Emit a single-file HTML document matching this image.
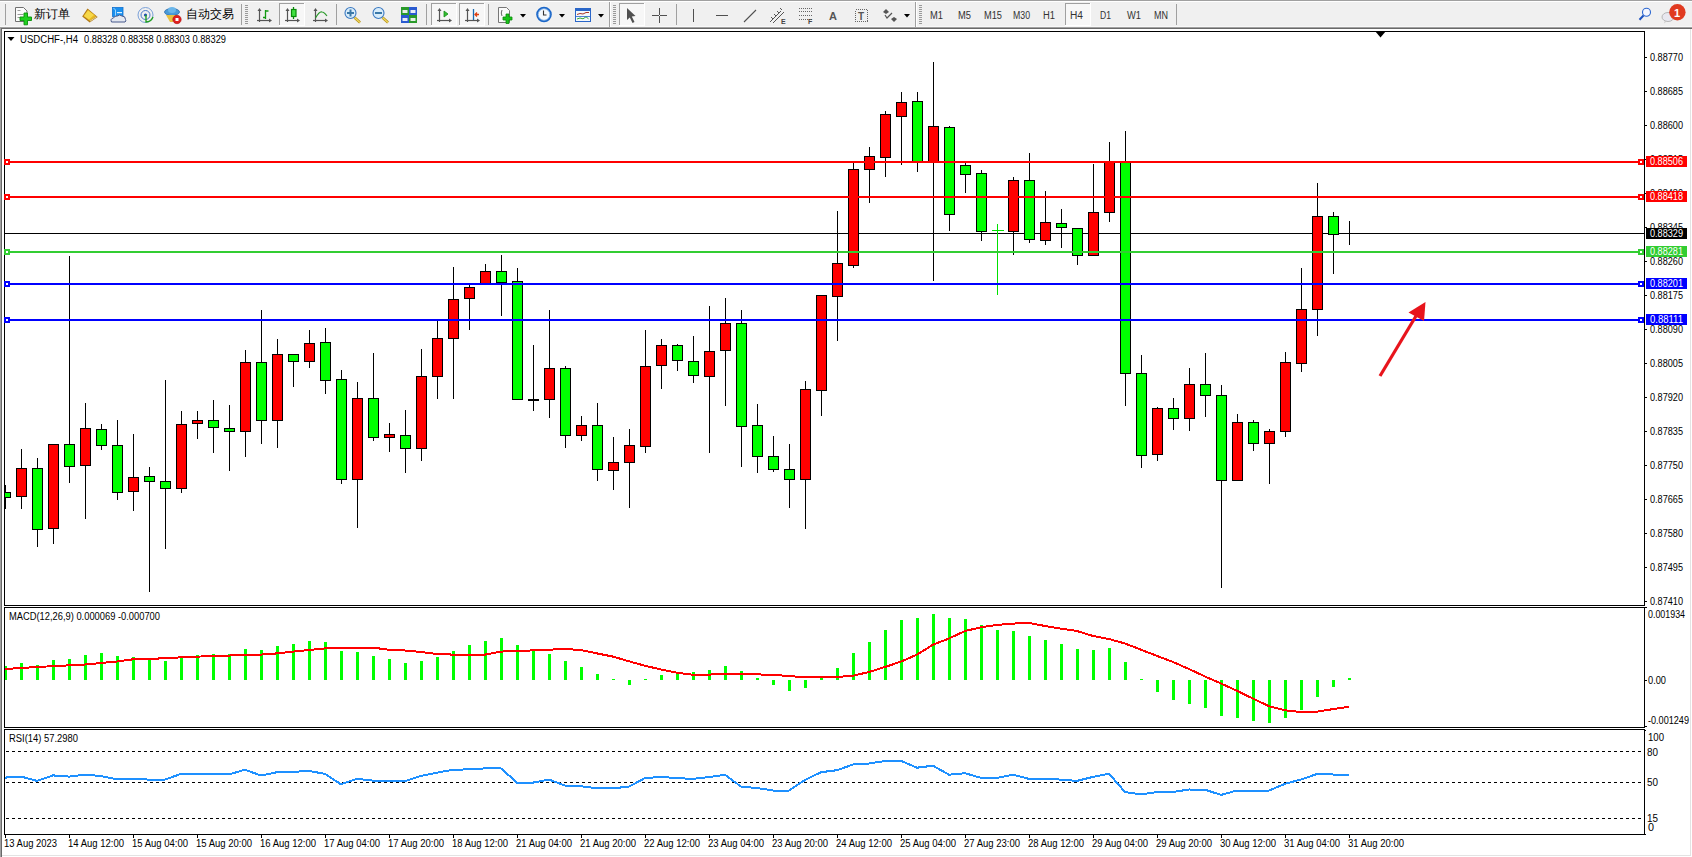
<!DOCTYPE html>
<html><head><meta charset="utf-8"><style>
html,body{margin:0;padding:0;width:1692px;height:857px;overflow:hidden;background:#f0f0f0;}
svg{display:block;}
text{font-family:"Liberation Sans", sans-serif;}
</style></head><body>
<svg width="1692" height="857" viewBox="0 0 1692 857" shape-rendering="crispEdges">
<rect x="0" y="0" width="1692" height="857" fill="#f0f0f0"/>
<rect x="0" y="0" width="1692" height="1" fill="#a0a0a0"/>
<rect x="0" y="1" width="1692" height="1" fill="#ffffff"/>
<rect x="0" y="26" width="1692" height="1" fill="#f8f8f8"/>
<rect x="0" y="27" width="1692" height="1" fill="#a0a0a0"/>
<rect x="0" y="28" width="1692" height="1" fill="#696969"/>
<rect x="0" y="29" width="1692" height="828" fill="#ffffff"/>
<rect x="0" y="28" width="1" height="829" fill="#a0a0a0"/>
<rect x="1" y="28" width="1" height="829" fill="#696969"/>
<rect x="1690" y="29" width="1" height="827" fill="#e3e3e3"/>
<rect x="2" y="855" width="1689" height="1" fill="#e3e3e3"/>
<rect x="4" y="31" width="1641" height="1" fill="#000"/>
<rect x="4" y="605" width="1641" height="1" fill="#000"/>
<rect x="4" y="31" width="1" height="575" fill="#000"/>
<rect x="1644" y="31" width="1" height="575" fill="#000"/>
<rect x="4" y="607" width="1641" height="1" fill="#000"/>
<rect x="4" y="727" width="1641" height="1" fill="#000"/>
<rect x="4" y="607" width="1" height="121" fill="#000"/>
<rect x="1644" y="607" width="1" height="121" fill="#000"/>
<rect x="4" y="729" width="1641" height="1" fill="#000"/>
<rect x="4" y="834" width="1641" height="1" fill="#000"/>
<rect x="4" y="729" width="1" height="106" fill="#000"/>
<rect x="1644" y="729" width="1" height="106" fill="#000"/>
<rect x="5" y="233" width="1639" height="1" fill="#000"/>
<defs><clipPath id="cm"><rect x="5" y="32" width="1639" height="573"/></clipPath><clipPath id="cmacd"><rect x="5" y="608" width="1639" height="119"/></clipPath><clipPath id="crsi"><rect x="5" y="730" width="1639" height="104"/></clipPath></defs>
<g clip-path="url(#cm)">
<rect x="5" y="485" width="1" height="24" fill="#000"/>
<rect x="0" y="492" width="11" height="6" fill="#000"/>
<rect x="1" y="493" width="9" height="4" fill="#00ff00"/>
<rect x="21" y="449" width="1" height="60" fill="#000"/>
<rect x="16" y="468" width="11" height="29" fill="#000"/>
<rect x="17" y="469" width="9" height="27" fill="#ff0000"/>
<rect x="37" y="458" width="1" height="89" fill="#000"/>
<rect x="32" y="468" width="11" height="62" fill="#000"/>
<rect x="33" y="469" width="9" height="60" fill="#00ff00"/>
<rect x="53" y="444" width="1" height="100" fill="#000"/>
<rect x="48" y="444" width="11" height="85" fill="#000"/>
<rect x="49" y="445" width="9" height="83" fill="#ff0000"/>
<rect x="69" y="256" width="1" height="227" fill="#000"/>
<rect x="64" y="444" width="11" height="23" fill="#000"/>
<rect x="65" y="445" width="9" height="21" fill="#00ff00"/>
<rect x="85" y="403" width="1" height="116" fill="#000"/>
<rect x="80" y="428" width="11" height="38" fill="#000"/>
<rect x="81" y="429" width="9" height="36" fill="#ff0000"/>
<rect x="101" y="424" width="1" height="26" fill="#000"/>
<rect x="96" y="429" width="11" height="17" fill="#000"/>
<rect x="97" y="430" width="9" height="15" fill="#00ff00"/>
<rect x="117" y="420" width="1" height="80" fill="#000"/>
<rect x="112" y="445" width="11" height="48" fill="#000"/>
<rect x="113" y="446" width="9" height="46" fill="#00ff00"/>
<rect x="133" y="434" width="1" height="77" fill="#000"/>
<rect x="128" y="477" width="11" height="15" fill="#000"/>
<rect x="129" y="478" width="9" height="13" fill="#ff0000"/>
<rect x="149" y="467" width="1" height="125" fill="#000"/>
<rect x="144" y="476" width="11" height="6" fill="#000"/>
<rect x="145" y="477" width="9" height="4" fill="#00ff00"/>
<rect x="165" y="380" width="1" height="169" fill="#000"/>
<rect x="160" y="481" width="11" height="8" fill="#000"/>
<rect x="161" y="482" width="9" height="6" fill="#00ff00"/>
<rect x="181" y="411" width="1" height="82" fill="#000"/>
<rect x="176" y="424" width="11" height="65" fill="#000"/>
<rect x="177" y="425" width="9" height="63" fill="#ff0000"/>
<rect x="197" y="411" width="1" height="28" fill="#000"/>
<rect x="192" y="420" width="11" height="4" fill="#000"/>
<rect x="193" y="421" width="9" height="2" fill="#ff0000"/>
<rect x="213" y="400" width="1" height="53" fill="#000"/>
<rect x="208" y="420" width="11" height="8" fill="#000"/>
<rect x="209" y="421" width="9" height="6" fill="#00ff00"/>
<rect x="229" y="405" width="1" height="66" fill="#000"/>
<rect x="224" y="428" width="11" height="4" fill="#000"/>
<rect x="225" y="429" width="9" height="2" fill="#00ff00"/>
<rect x="245" y="350" width="1" height="107" fill="#000"/>
<rect x="240" y="362" width="11" height="70" fill="#000"/>
<rect x="241" y="363" width="9" height="68" fill="#ff0000"/>
<rect x="261" y="310" width="1" height="134" fill="#000"/>
<rect x="256" y="362" width="11" height="59" fill="#000"/>
<rect x="257" y="363" width="9" height="57" fill="#00ff00"/>
<rect x="277" y="339" width="1" height="109" fill="#000"/>
<rect x="272" y="354" width="11" height="67" fill="#000"/>
<rect x="273" y="355" width="9" height="65" fill="#ff0000"/>
<rect x="293" y="354" width="1" height="33" fill="#000"/>
<rect x="288" y="354" width="11" height="8" fill="#000"/>
<rect x="289" y="355" width="9" height="6" fill="#00ff00"/>
<rect x="309" y="330" width="1" height="38" fill="#000"/>
<rect x="304" y="343" width="11" height="19" fill="#000"/>
<rect x="305" y="344" width="9" height="17" fill="#ff0000"/>
<rect x="325" y="328" width="1" height="66" fill="#000"/>
<rect x="320" y="342" width="11" height="39" fill="#000"/>
<rect x="321" y="343" width="9" height="37" fill="#00ff00"/>
<rect x="341" y="370" width="1" height="114" fill="#000"/>
<rect x="336" y="379" width="11" height="101" fill="#000"/>
<rect x="337" y="380" width="9" height="99" fill="#00ff00"/>
<rect x="357" y="382" width="1" height="146" fill="#000"/>
<rect x="352" y="398" width="11" height="82" fill="#000"/>
<rect x="353" y="399" width="9" height="80" fill="#ff0000"/>
<rect x="373" y="353" width="1" height="88" fill="#000"/>
<rect x="368" y="398" width="11" height="40" fill="#000"/>
<rect x="369" y="399" width="9" height="38" fill="#00ff00"/>
<rect x="389" y="423" width="1" height="29" fill="#000"/>
<rect x="384" y="434" width="11" height="4" fill="#000"/>
<rect x="385" y="435" width="9" height="2" fill="#ff0000"/>
<rect x="405" y="410" width="1" height="63" fill="#000"/>
<rect x="400" y="435" width="11" height="14" fill="#000"/>
<rect x="401" y="436" width="9" height="12" fill="#00ff00"/>
<rect x="421" y="349" width="1" height="112" fill="#000"/>
<rect x="416" y="376" width="11" height="73" fill="#000"/>
<rect x="417" y="377" width="9" height="71" fill="#ff0000"/>
<rect x="437" y="320" width="1" height="79" fill="#000"/>
<rect x="432" y="338" width="11" height="39" fill="#000"/>
<rect x="433" y="339" width="9" height="37" fill="#ff0000"/>
<rect x="453" y="267" width="1" height="132" fill="#000"/>
<rect x="448" y="299" width="11" height="40" fill="#000"/>
<rect x="449" y="300" width="9" height="38" fill="#ff0000"/>
<rect x="469" y="284" width="1" height="46" fill="#000"/>
<rect x="464" y="287" width="11" height="12" fill="#000"/>
<rect x="465" y="288" width="9" height="10" fill="#ff0000"/>
<rect x="485" y="264" width="1" height="20" fill="#000"/>
<rect x="480" y="271" width="11" height="13" fill="#000"/>
<rect x="481" y="272" width="9" height="11" fill="#ff0000"/>
<rect x="501" y="255" width="1" height="61" fill="#000"/>
<rect x="496" y="271" width="11" height="12" fill="#000"/>
<rect x="497" y="272" width="9" height="10" fill="#00ff00"/>
<rect x="517" y="268" width="1" height="132" fill="#000"/>
<rect x="512" y="281" width="11" height="119" fill="#000"/>
<rect x="513" y="282" width="9" height="117" fill="#00ff00"/>
<rect x="533" y="345" width="1" height="66" fill="#000"/>
<rect x="528" y="399" width="11" height="2" fill="#000"/>
<rect x="549" y="310" width="1" height="108" fill="#000"/>
<rect x="544" y="368" width="11" height="32" fill="#000"/>
<rect x="545" y="369" width="9" height="30" fill="#ff0000"/>
<rect x="565" y="366" width="1" height="82" fill="#000"/>
<rect x="560" y="368" width="11" height="68" fill="#000"/>
<rect x="561" y="369" width="9" height="66" fill="#00ff00"/>
<rect x="581" y="416" width="1" height="25" fill="#000"/>
<rect x="576" y="425" width="11" height="11" fill="#000"/>
<rect x="577" y="426" width="9" height="9" fill="#ff0000"/>
<rect x="597" y="403" width="1" height="78" fill="#000"/>
<rect x="592" y="425" width="11" height="45" fill="#000"/>
<rect x="593" y="426" width="9" height="43" fill="#00ff00"/>
<rect x="613" y="437" width="1" height="53" fill="#000"/>
<rect x="608" y="462" width="11" height="9" fill="#000"/>
<rect x="609" y="463" width="9" height="7" fill="#ff0000"/>
<rect x="629" y="429" width="1" height="79" fill="#000"/>
<rect x="624" y="445" width="11" height="18" fill="#000"/>
<rect x="625" y="446" width="9" height="16" fill="#ff0000"/>
<rect x="645" y="330" width="1" height="123" fill="#000"/>
<rect x="640" y="366" width="11" height="81" fill="#000"/>
<rect x="641" y="367" width="9" height="79" fill="#ff0000"/>
<rect x="661" y="339" width="1" height="50" fill="#000"/>
<rect x="656" y="345" width="11" height="21" fill="#000"/>
<rect x="657" y="346" width="9" height="19" fill="#ff0000"/>
<rect x="677" y="344" width="1" height="27" fill="#000"/>
<rect x="672" y="345" width="11" height="16" fill="#000"/>
<rect x="673" y="346" width="9" height="14" fill="#00ff00"/>
<rect x="693" y="336" width="1" height="47" fill="#000"/>
<rect x="688" y="361" width="11" height="15" fill="#000"/>
<rect x="689" y="362" width="9" height="13" fill="#00ff00"/>
<rect x="709" y="306" width="1" height="147" fill="#000"/>
<rect x="704" y="351" width="11" height="26" fill="#000"/>
<rect x="705" y="352" width="9" height="24" fill="#ff0000"/>
<rect x="725" y="298" width="1" height="108" fill="#000"/>
<rect x="720" y="323" width="11" height="28" fill="#000"/>
<rect x="721" y="324" width="9" height="26" fill="#ff0000"/>
<rect x="741" y="310" width="1" height="157" fill="#000"/>
<rect x="736" y="323" width="11" height="104" fill="#000"/>
<rect x="737" y="324" width="9" height="102" fill="#00ff00"/>
<rect x="757" y="404" width="1" height="69" fill="#000"/>
<rect x="752" y="425" width="11" height="32" fill="#000"/>
<rect x="753" y="426" width="9" height="30" fill="#00ff00"/>
<rect x="773" y="436" width="1" height="36" fill="#000"/>
<rect x="768" y="456" width="11" height="14" fill="#000"/>
<rect x="769" y="457" width="9" height="12" fill="#00ff00"/>
<rect x="789" y="444" width="1" height="64" fill="#000"/>
<rect x="784" y="469" width="11" height="11" fill="#000"/>
<rect x="785" y="470" width="9" height="9" fill="#00ff00"/>
<rect x="805" y="381" width="1" height="148" fill="#000"/>
<rect x="800" y="389" width="11" height="91" fill="#000"/>
<rect x="801" y="390" width="9" height="89" fill="#ff0000"/>
<rect x="821" y="295" width="1" height="121" fill="#000"/>
<rect x="816" y="295" width="11" height="96" fill="#000"/>
<rect x="817" y="296" width="9" height="94" fill="#ff0000"/>
<rect x="837" y="211" width="1" height="130" fill="#000"/>
<rect x="832" y="263" width="11" height="34" fill="#000"/>
<rect x="833" y="264" width="9" height="32" fill="#ff0000"/>
<rect x="853" y="163" width="1" height="105" fill="#000"/>
<rect x="848" y="169" width="11" height="97" fill="#000"/>
<rect x="849" y="170" width="9" height="95" fill="#ff0000"/>
<rect x="869" y="147" width="1" height="56" fill="#000"/>
<rect x="864" y="156" width="11" height="14" fill="#000"/>
<rect x="865" y="157" width="9" height="12" fill="#ff0000"/>
<rect x="885" y="111" width="1" height="66" fill="#000"/>
<rect x="880" y="114" width="11" height="44" fill="#000"/>
<rect x="881" y="115" width="9" height="42" fill="#ff0000"/>
<rect x="901" y="92" width="1" height="73" fill="#000"/>
<rect x="896" y="102" width="11" height="15" fill="#000"/>
<rect x="897" y="103" width="9" height="13" fill="#ff0000"/>
<rect x="917" y="92" width="1" height="80" fill="#000"/>
<rect x="912" y="101" width="11" height="61" fill="#000"/>
<rect x="913" y="102" width="9" height="59" fill="#00ff00"/>
<rect x="933" y="62" width="1" height="219" fill="#000"/>
<rect x="928" y="126" width="11" height="36" fill="#000"/>
<rect x="929" y="127" width="9" height="34" fill="#ff0000"/>
<rect x="949" y="126" width="1" height="105" fill="#000"/>
<rect x="944" y="127" width="11" height="88" fill="#000"/>
<rect x="945" y="128" width="9" height="86" fill="#00ff00"/>
<rect x="965" y="163" width="1" height="30" fill="#000"/>
<rect x="960" y="165" width="11" height="10" fill="#000"/>
<rect x="961" y="166" width="9" height="8" fill="#00ff00"/>
<rect x="981" y="170" width="1" height="71" fill="#000"/>
<rect x="976" y="173" width="11" height="59" fill="#000"/>
<rect x="977" y="174" width="9" height="57" fill="#00ff00"/>
<rect x="997" y="224" width="1" height="71" fill="#00e000"/>
<rect x="992" y="230" width="12" height="1" fill="#00e000"/>
<rect x="1013" y="177" width="1" height="78" fill="#000"/>
<rect x="1008" y="180" width="11" height="52" fill="#000"/>
<rect x="1009" y="181" width="9" height="50" fill="#ff0000"/>
<rect x="1029" y="153" width="1" height="90" fill="#000"/>
<rect x="1024" y="180" width="11" height="60" fill="#000"/>
<rect x="1025" y="181" width="9" height="58" fill="#00ff00"/>
<rect x="1045" y="191" width="1" height="54" fill="#000"/>
<rect x="1040" y="222" width="11" height="19" fill="#000"/>
<rect x="1041" y="223" width="9" height="17" fill="#ff0000"/>
<rect x="1061" y="209" width="1" height="39" fill="#000"/>
<rect x="1056" y="223" width="11" height="5" fill="#000"/>
<rect x="1057" y="224" width="9" height="3" fill="#00ff00"/>
<rect x="1077" y="228" width="1" height="37" fill="#000"/>
<rect x="1072" y="228" width="11" height="28" fill="#000"/>
<rect x="1073" y="229" width="9" height="26" fill="#00ff00"/>
<rect x="1093" y="164" width="1" height="92" fill="#000"/>
<rect x="1088" y="212" width="11" height="44" fill="#000"/>
<rect x="1089" y="213" width="9" height="42" fill="#ff0000"/>
<rect x="1109" y="142" width="1" height="80" fill="#000"/>
<rect x="1104" y="162" width="11" height="51" fill="#000"/>
<rect x="1105" y="163" width="9" height="49" fill="#ff0000"/>
<rect x="1125" y="131" width="1" height="275" fill="#000"/>
<rect x="1120" y="162" width="11" height="212" fill="#000"/>
<rect x="1121" y="163" width="9" height="210" fill="#00ff00"/>
<rect x="1141" y="355" width="1" height="113" fill="#000"/>
<rect x="1136" y="373" width="11" height="83" fill="#000"/>
<rect x="1137" y="374" width="9" height="81" fill="#00ff00"/>
<rect x="1157" y="407" width="1" height="54" fill="#000"/>
<rect x="1152" y="408" width="11" height="47" fill="#000"/>
<rect x="1153" y="409" width="9" height="45" fill="#ff0000"/>
<rect x="1173" y="398" width="1" height="32" fill="#000"/>
<rect x="1168" y="408" width="11" height="11" fill="#000"/>
<rect x="1169" y="409" width="9" height="9" fill="#00ff00"/>
<rect x="1189" y="368" width="1" height="63" fill="#000"/>
<rect x="1184" y="384" width="11" height="35" fill="#000"/>
<rect x="1185" y="385" width="9" height="33" fill="#ff0000"/>
<rect x="1205" y="353" width="1" height="64" fill="#000"/>
<rect x="1200" y="384" width="11" height="12" fill="#000"/>
<rect x="1201" y="385" width="9" height="10" fill="#00ff00"/>
<rect x="1221" y="385" width="1" height="203" fill="#000"/>
<rect x="1216" y="395" width="11" height="86" fill="#000"/>
<rect x="1217" y="396" width="9" height="84" fill="#00ff00"/>
<rect x="1237" y="414" width="1" height="67" fill="#000"/>
<rect x="1232" y="422" width="11" height="59" fill="#000"/>
<rect x="1233" y="423" width="9" height="57" fill="#ff0000"/>
<rect x="1253" y="420" width="1" height="31" fill="#000"/>
<rect x="1248" y="422" width="11" height="22" fill="#000"/>
<rect x="1249" y="423" width="9" height="20" fill="#00ff00"/>
<rect x="1269" y="429" width="1" height="55" fill="#000"/>
<rect x="1264" y="431" width="11" height="13" fill="#000"/>
<rect x="1265" y="432" width="9" height="11" fill="#ff0000"/>
<rect x="1285" y="352" width="1" height="85" fill="#000"/>
<rect x="1280" y="362" width="11" height="70" fill="#000"/>
<rect x="1281" y="363" width="9" height="68" fill="#ff0000"/>
<rect x="1301" y="268" width="1" height="104" fill="#000"/>
<rect x="1296" y="309" width="11" height="55" fill="#000"/>
<rect x="1297" y="310" width="9" height="53" fill="#ff0000"/>
<rect x="1317" y="183" width="1" height="153" fill="#000"/>
<rect x="1312" y="216" width="11" height="94" fill="#000"/>
<rect x="1313" y="217" width="9" height="92" fill="#ff0000"/>
<rect x="1333" y="212" width="1" height="62" fill="#000"/>
<rect x="1328" y="216" width="11" height="19" fill="#000"/>
<rect x="1329" y="217" width="9" height="17" fill="#00ff00"/>
<rect x="1349" y="221" width="1" height="24" fill="#000"/>
<rect x="1344" y="233" width="11" height="1" fill="#000"/>
</g>
<rect x="5" y="161" width="1639" height="2" fill="#ff0000"/>
<rect x="4" y="159" width="6" height="6" fill="#ff0000"/>
<rect x="6" y="161" width="2" height="2" fill="#ffffff"/>
<rect x="1638" y="159" width="6" height="6" fill="#ff0000"/>
<rect x="1640" y="161" width="2" height="2" fill="#ffffff"/>
<rect x="5" y="196" width="1639" height="2" fill="#ff0000"/>
<rect x="4" y="194" width="6" height="6" fill="#ff0000"/>
<rect x="6" y="196" width="2" height="2" fill="#ffffff"/>
<rect x="1638" y="194" width="6" height="6" fill="#ff0000"/>
<rect x="1640" y="196" width="2" height="2" fill="#ffffff"/>
<rect x="5" y="251" width="1639" height="2" fill="#32cd32"/>
<rect x="4" y="249" width="6" height="6" fill="#32cd32"/>
<rect x="6" y="251" width="2" height="2" fill="#ffffff"/>
<rect x="1638" y="249" width="6" height="6" fill="#32cd32"/>
<rect x="1640" y="251" width="2" height="2" fill="#ffffff"/>
<rect x="5" y="283" width="1639" height="2" fill="#0000ff"/>
<rect x="4" y="281" width="6" height="6" fill="#0000ff"/>
<rect x="6" y="283" width="2" height="2" fill="#ffffff"/>
<rect x="1638" y="281" width="6" height="6" fill="#0000ff"/>
<rect x="1640" y="283" width="2" height="2" fill="#ffffff"/>
<rect x="5" y="319" width="1639" height="2" fill="#0000ff"/>
<rect x="4" y="317" width="6" height="6" fill="#0000ff"/>
<rect x="6" y="319" width="2" height="2" fill="#ffffff"/>
<rect x="1638" y="317" width="6" height="6" fill="#0000ff"/>
<rect x="1640" y="319" width="2" height="2" fill="#ffffff"/>
<g shape-rendering="geometricPrecision"><line x1="1380" y1="376" x2="1416" y2="316" stroke="#e8141c" stroke-width="3.2"/><polygon points="1425.5,302 1408.5,312.5 1424,321" fill="#e8141c"/></g>
<polygon shape-rendering="geometricPrecision" points="1375,31 1386,31 1380.5,37.5" fill="#000"/>
<rect x="1645" y="57" width="2" height="1" fill="#000"/>
<text x="1650" y="61" font-size="10" fill="#000" textLength="33" lengthAdjust="spacingAndGlyphs">0.88770</text>
<rect x="1645" y="91" width="2" height="1" fill="#000"/>
<text x="1650" y="95" font-size="10" fill="#000" textLength="33" lengthAdjust="spacingAndGlyphs">0.88685</text>
<rect x="1645" y="125" width="2" height="1" fill="#000"/>
<text x="1650" y="129" font-size="10" fill="#000" textLength="33" lengthAdjust="spacingAndGlyphs">0.88600</text>
<rect x="1645" y="159" width="2" height="1" fill="#000"/>
<text x="1650" y="163" font-size="10" fill="#000" textLength="33" lengthAdjust="spacingAndGlyphs">0.88515</text>
<rect x="1645" y="193" width="2" height="1" fill="#000"/>
<text x="1650" y="197" font-size="10" fill="#000" textLength="33" lengthAdjust="spacingAndGlyphs">0.88430</text>
<rect x="1645" y="227" width="2" height="1" fill="#000"/>
<text x="1650" y="231" font-size="10" fill="#000" textLength="33" lengthAdjust="spacingAndGlyphs">0.88345</text>
<rect x="1645" y="261" width="2" height="1" fill="#000"/>
<text x="1650" y="265" font-size="10" fill="#000" textLength="33" lengthAdjust="spacingAndGlyphs">0.88260</text>
<rect x="1645" y="295" width="2" height="1" fill="#000"/>
<text x="1650" y="299" font-size="10" fill="#000" textLength="33" lengthAdjust="spacingAndGlyphs">0.88175</text>
<rect x="1645" y="329" width="2" height="1" fill="#000"/>
<text x="1650" y="333" font-size="10" fill="#000" textLength="33" lengthAdjust="spacingAndGlyphs">0.88090</text>
<rect x="1645" y="363" width="2" height="1" fill="#000"/>
<text x="1650" y="367" font-size="10" fill="#000" textLength="33" lengthAdjust="spacingAndGlyphs">0.88005</text>
<rect x="1645" y="397" width="2" height="1" fill="#000"/>
<text x="1650" y="401" font-size="10" fill="#000" textLength="33" lengthAdjust="spacingAndGlyphs">0.87920</text>
<rect x="1645" y="431" width="2" height="1" fill="#000"/>
<text x="1650" y="435" font-size="10" fill="#000" textLength="33" lengthAdjust="spacingAndGlyphs">0.87835</text>
<rect x="1645" y="465" width="2" height="1" fill="#000"/>
<text x="1650" y="469" font-size="10" fill="#000" textLength="33" lengthAdjust="spacingAndGlyphs">0.87750</text>
<rect x="1645" y="499" width="2" height="1" fill="#000"/>
<text x="1650" y="503" font-size="10" fill="#000" textLength="33" lengthAdjust="spacingAndGlyphs">0.87665</text>
<rect x="1645" y="533" width="2" height="1" fill="#000"/>
<text x="1650" y="537" font-size="10" fill="#000" textLength="33" lengthAdjust="spacingAndGlyphs">0.87580</text>
<rect x="1645" y="567" width="2" height="1" fill="#000"/>
<text x="1650" y="571" font-size="10" fill="#000" textLength="33" lengthAdjust="spacingAndGlyphs">0.87495</text>
<rect x="1645" y="601" width="2" height="1" fill="#000"/>
<text x="1650" y="605" font-size="10" fill="#000" textLength="33" lengthAdjust="spacingAndGlyphs">0.87410</text>
<rect x="1646" y="156" width="41" height="11" fill="#ff0000"/>
<text x="1650" y="165" font-size="10" fill="#fff" textLength="33" lengthAdjust="spacingAndGlyphs">0.88506</text>
<rect x="1646" y="191" width="41" height="11" fill="#ff0000"/>
<text x="1650" y="200" font-size="10" fill="#fff" textLength="33" lengthAdjust="spacingAndGlyphs">0.88418</text>
<rect x="1646" y="246" width="41" height="11" fill="#32cd32"/>
<text x="1650" y="255" font-size="10" fill="#fff" textLength="33" lengthAdjust="spacingAndGlyphs">0.88281</text>
<rect x="1646" y="278" width="41" height="11" fill="#0000ff"/>
<text x="1650" y="287" font-size="10" fill="#fff" textLength="33" lengthAdjust="spacingAndGlyphs">0.88201</text>
<rect x="1646" y="314" width="41" height="11" fill="#0000ff"/>
<text x="1650" y="323" font-size="10" fill="#fff" textLength="33" lengthAdjust="spacingAndGlyphs">0.88111</text>
<rect x="1646" y="228" width="41" height="11" fill="#000000"/>
<text x="1650" y="237" font-size="10" fill="#fff" textLength="33" lengthAdjust="spacingAndGlyphs">0.88329</text>
<polygon shape-rendering="geometricPrecision" points="7.5,37 14.5,37 11,41" fill="#000"/>
<text x="20" y="43" font-size="10" fill="#000" textLength="58" lengthAdjust="spacingAndGlyphs">USDCHF-,H4</text>
<text x="84" y="43" font-size="10" fill="#000" textLength="142" lengthAdjust="spacingAndGlyphs">0.88328 0.88358 0.88303 0.88329</text>
<g clip-path="url(#cmacd)">
<rect x="4" y="666" width="3" height="14" fill="#00ff00"/>
<rect x="20" y="663" width="3" height="17" fill="#00ff00"/>
<rect x="36" y="665" width="3" height="15" fill="#00ff00"/>
<rect x="52" y="660" width="3" height="20" fill="#00ff00"/>
<rect x="68" y="659" width="3" height="21" fill="#00ff00"/>
<rect x="84" y="655" width="3" height="25" fill="#00ff00"/>
<rect x="100" y="653" width="3" height="27" fill="#00ff00"/>
<rect x="116" y="656" width="3" height="24" fill="#00ff00"/>
<rect x="132" y="657" width="3" height="23" fill="#00ff00"/>
<rect x="148" y="659" width="3" height="21" fill="#00ff00"/>
<rect x="164" y="661" width="3" height="19" fill="#00ff00"/>
<rect x="180" y="658" width="3" height="22" fill="#00ff00"/>
<rect x="196" y="655" width="3" height="25" fill="#00ff00"/>
<rect x="212" y="654" width="3" height="26" fill="#00ff00"/>
<rect x="228" y="654" width="3" height="26" fill="#00ff00"/>
<rect x="244" y="649" width="3" height="31" fill="#00ff00"/>
<rect x="260" y="650" width="3" height="30" fill="#00ff00"/>
<rect x="276" y="646" width="3" height="34" fill="#00ff00"/>
<rect x="292" y="644" width="3" height="36" fill="#00ff00"/>
<rect x="308" y="641" width="3" height="39" fill="#00ff00"/>
<rect x="324" y="642" width="3" height="38" fill="#00ff00"/>
<rect x="340" y="651" width="3" height="29" fill="#00ff00"/>
<rect x="356" y="652" width="3" height="28" fill="#00ff00"/>
<rect x="372" y="656" width="3" height="24" fill="#00ff00"/>
<rect x="388" y="659" width="3" height="21" fill="#00ff00"/>
<rect x="404" y="663" width="3" height="17" fill="#00ff00"/>
<rect x="420" y="661" width="3" height="19" fill="#00ff00"/>
<rect x="436" y="657" width="3" height="23" fill="#00ff00"/>
<rect x="452" y="651" width="3" height="29" fill="#00ff00"/>
<rect x="468" y="645" width="3" height="35" fill="#00ff00"/>
<rect x="484" y="641" width="3" height="39" fill="#00ff00"/>
<rect x="500" y="638" width="3" height="42" fill="#00ff00"/>
<rect x="516" y="645" width="3" height="35" fill="#00ff00"/>
<rect x="532" y="651" width="3" height="29" fill="#00ff00"/>
<rect x="548" y="654" width="3" height="26" fill="#00ff00"/>
<rect x="564" y="661" width="3" height="19" fill="#00ff00"/>
<rect x="580" y="667" width="3" height="13" fill="#00ff00"/>
<rect x="596" y="674" width="3" height="6" fill="#00ff00"/>
<rect x="612" y="679" width="3" height="1" fill="#00ff00"/>
<rect x="628" y="680" width="3" height="5" fill="#00ff00"/>
<rect x="644" y="679" width="3" height="1" fill="#00ff00"/>
<rect x="660" y="675" width="3" height="5" fill="#00ff00"/>
<rect x="676" y="672" width="3" height="8" fill="#00ff00"/>
<rect x="692" y="672" width="3" height="8" fill="#00ff00"/>
<rect x="708" y="670" width="3" height="10" fill="#00ff00"/>
<rect x="724" y="666" width="3" height="14" fill="#00ff00"/>
<rect x="740" y="671" width="3" height="9" fill="#00ff00"/>
<rect x="756" y="678" width="3" height="2" fill="#00ff00"/>
<rect x="772" y="680" width="3" height="5" fill="#00ff00"/>
<rect x="788" y="680" width="3" height="11" fill="#00ff00"/>
<rect x="804" y="680" width="3" height="8" fill="#00ff00"/>
<rect x="820" y="678" width="3" height="2" fill="#00ff00"/>
<rect x="836" y="668" width="3" height="12" fill="#00ff00"/>
<rect x="852" y="653" width="3" height="27" fill="#00ff00"/>
<rect x="868" y="642" width="3" height="38" fill="#00ff00"/>
<rect x="884" y="630" width="3" height="50" fill="#00ff00"/>
<rect x="900" y="620" width="3" height="60" fill="#00ff00"/>
<rect x="916" y="618" width="3" height="62" fill="#00ff00"/>
<rect x="932" y="614" width="3" height="66" fill="#00ff00"/>
<rect x="948" y="618" width="3" height="62" fill="#00ff00"/>
<rect x="964" y="619" width="3" height="61" fill="#00ff00"/>
<rect x="980" y="625" width="3" height="55" fill="#00ff00"/>
<rect x="996" y="630" width="3" height="50" fill="#00ff00"/>
<rect x="1012" y="631" width="3" height="49" fill="#00ff00"/>
<rect x="1028" y="636" width="3" height="44" fill="#00ff00"/>
<rect x="1044" y="640" width="3" height="40" fill="#00ff00"/>
<rect x="1060" y="644" width="3" height="36" fill="#00ff00"/>
<rect x="1076" y="649" width="3" height="31" fill="#00ff00"/>
<rect x="1092" y="650" width="3" height="30" fill="#00ff00"/>
<rect x="1108" y="648" width="3" height="32" fill="#00ff00"/>
<rect x="1124" y="662" width="3" height="18" fill="#00ff00"/>
<rect x="1140" y="679" width="3" height="1" fill="#00ff00"/>
<rect x="1156" y="680" width="3" height="12" fill="#00ff00"/>
<rect x="1172" y="680" width="3" height="20" fill="#00ff00"/>
<rect x="1188" y="680" width="3" height="24" fill="#00ff00"/>
<rect x="1204" y="680" width="3" height="28" fill="#00ff00"/>
<rect x="1220" y="680" width="3" height="36" fill="#00ff00"/>
<rect x="1236" y="680" width="3" height="38" fill="#00ff00"/>
<rect x="1252" y="680" width="3" height="41" fill="#00ff00"/>
<rect x="1268" y="680" width="3" height="43" fill="#00ff00"/>
<rect x="1284" y="680" width="3" height="38" fill="#00ff00"/>
<rect x="1300" y="680" width="3" height="30" fill="#00ff00"/>
<rect x="1316" y="680" width="3" height="17" fill="#00ff00"/>
<rect x="1332" y="680" width="3" height="7" fill="#00ff00"/>
<rect x="1348" y="678" width="3" height="2" fill="#00ff00"/>
<polyline points="5,669 37,667 85,664.5 117,661.5 133,659.3 165,658.3 181,657.3 213,656 261,654.6 277,653.4 293,651.6 309,650 325,648.4 341,647.7 373,647.7 389,649.7 405,650.5 421,652 437,654 453,654.6 485,654.6 501,651.6 533,650.4 565,649 581,650 597,653.4 613,656.6 629,661.3 645,665.8 661,669.5 677,672.7 693,674.7 741,674.2 773,674.7 789,676.2 805,677 837,677 853,675.7 869,672 885,667 901,661.6 917,654.6 933,644.7 949,638.5 965,631 981,627.3 997,624.9 1013,623.6 1029,622.9 1045,626 1061,628.6 1077,631 1093,636 1109,639 1125,643.5 1141,649.7 1157,655.9 1173,662 1189,669 1205,676.5 1221,683.5 1237,690.8 1253,698.6 1269,706.2 1285,710.3 1301,712 1317,711.7 1333,709.1 1349,706.8" fill="none" stroke="#ff0000" stroke-width="2" shape-rendering="crispEdges"/>
</g>
<text x="9" y="620" font-size="10" fill="#000" textLength="151" lengthAdjust="spacingAndGlyphs">MACD(12,26,9) 0.000069 -0.000700</text>
<rect x="1645" y="607" width="2" height="1" fill="#000"/>
<rect x="1645" y="680" width="2" height="1" fill="#000"/>
<rect x="1645" y="726" width="2" height="1" fill="#000"/>
<text x="1648" y="618" font-size="10" fill="#000" textLength="37" lengthAdjust="spacingAndGlyphs">0.001934</text>
<text x="1648" y="684" font-size="10" fill="#000" textLength="18" lengthAdjust="spacingAndGlyphs">0.00</text>
<text x="1648" y="724" font-size="10" fill="#000" textLength="41" lengthAdjust="spacingAndGlyphs">-0.001249</text>
<line x1="6" y1="751.5" x2="1644" y2="751.5" stroke="#000" stroke-width="1" stroke-dasharray="3,3"/>
<line x1="6" y1="782.5" x2="1644" y2="782.5" stroke="#000" stroke-width="1" stroke-dasharray="3,3"/>
<line x1="6" y1="818.5" x2="1644" y2="818.5" stroke="#000" stroke-width="1" stroke-dasharray="3,3"/>
<g clip-path="url(#crsi)">
<polyline points="5,777.6 21,776.6 37,780.9 53,775.4 69,776.6 85,774.7 101,776 117,779.4 133,779 149,779.6 165,779.6 181,773.9 197,773.9 213,774.4 229,774.4 245,769.7 261,775.6 277,772.2 293,771.9 309,770.9 325,773.9 341,784.3 357,778.9 373,780.6 389,781.1 405,781.1 421,775.9 437,772.7 453,769.7 469,769.4 485,768.4 501,768.4 517,782.6 533,782.6 549,779.6 565,785.6 581,786.3 597,788.3 613,788.3 629,786.6 645,778.1 661,776.9 677,778.1 693,778.9 709,777.1 725,774.7 741,786.6 757,788 773,790.5 789,790.5 805,780 821,772.2 837,770.2 853,764.5 869,763.5 885,761 901,760.8 917,767.7 933,765.7 949,774.7 965,773.2 981,777.9 997,777.9 1013,774.7 1029,778.9 1045,778.9 1061,779.6 1077,780.9 1093,776.9 1109,773.7 1125,792 1141,794.5 1157,792 1173,792 1189,789.5 1205,789.7 1221,794.9 1237,790.5 1253,790.5 1269,790.5 1285,783.8 1301,779.5 1317,774 1333,774.5 1349,774.5" fill="none" stroke="#1e90ff" stroke-width="2" shape-rendering="crispEdges"/>
</g>
<text x="9" y="742" font-size="10" fill="#000" textLength="69" lengthAdjust="spacingAndGlyphs">RSI(14) 57.2980</text>
<rect x="1645" y="730" width="1" height="1" fill="#000"/>
<rect x="1645" y="834" width="1" height="1" fill="#000"/>
<text x="1648" y="741" font-size="10" fill="#000" textLength="16" lengthAdjust="spacingAndGlyphs">100</text>
<text x="1647" y="756" font-size="10" fill="#000" textLength="11" lengthAdjust="spacingAndGlyphs">80</text>
<text x="1647" y="786" font-size="10" fill="#000" textLength="11" lengthAdjust="spacingAndGlyphs">50</text>
<text x="1647" y="822" font-size="10" fill="#000" textLength="11" lengthAdjust="spacingAndGlyphs">15</text>
<text x="1648" y="831" font-size="10" fill="#000" textLength="6" lengthAdjust="spacingAndGlyphs">0</text>
<rect x="5" y="835" width="1" height="3" fill="#000"/>
<text x="4" y="847" font-size="10" fill="#000" textLength="53" lengthAdjust="spacingAndGlyphs">13 Aug 2023</text>
<rect x="69" y="835" width="1" height="3" fill="#000"/>
<text x="68" y="847" font-size="10" fill="#000" textLength="56" lengthAdjust="spacingAndGlyphs">14 Aug 12:00</text>
<rect x="133" y="835" width="1" height="3" fill="#000"/>
<text x="132" y="847" font-size="10" fill="#000" textLength="56" lengthAdjust="spacingAndGlyphs">15 Aug 04:00</text>
<rect x="197" y="835" width="1" height="3" fill="#000"/>
<text x="196" y="847" font-size="10" fill="#000" textLength="56" lengthAdjust="spacingAndGlyphs">15 Aug 20:00</text>
<rect x="261" y="835" width="1" height="3" fill="#000"/>
<text x="260" y="847" font-size="10" fill="#000" textLength="56" lengthAdjust="spacingAndGlyphs">16 Aug 12:00</text>
<rect x="325" y="835" width="1" height="3" fill="#000"/>
<text x="324" y="847" font-size="10" fill="#000" textLength="56" lengthAdjust="spacingAndGlyphs">17 Aug 04:00</text>
<rect x="389" y="835" width="1" height="3" fill="#000"/>
<text x="388" y="847" font-size="10" fill="#000" textLength="56" lengthAdjust="spacingAndGlyphs">17 Aug 20:00</text>
<rect x="453" y="835" width="1" height="3" fill="#000"/>
<text x="452" y="847" font-size="10" fill="#000" textLength="56" lengthAdjust="spacingAndGlyphs">18 Aug 12:00</text>
<rect x="517" y="835" width="1" height="3" fill="#000"/>
<text x="516" y="847" font-size="10" fill="#000" textLength="56" lengthAdjust="spacingAndGlyphs">21 Aug 04:00</text>
<rect x="581" y="835" width="1" height="3" fill="#000"/>
<text x="580" y="847" font-size="10" fill="#000" textLength="56" lengthAdjust="spacingAndGlyphs">21 Aug 20:00</text>
<rect x="645" y="835" width="1" height="3" fill="#000"/>
<text x="644" y="847" font-size="10" fill="#000" textLength="56" lengthAdjust="spacingAndGlyphs">22 Aug 12:00</text>
<rect x="709" y="835" width="1" height="3" fill="#000"/>
<text x="708" y="847" font-size="10" fill="#000" textLength="56" lengthAdjust="spacingAndGlyphs">23 Aug 04:00</text>
<rect x="773" y="835" width="1" height="3" fill="#000"/>
<text x="772" y="847" font-size="10" fill="#000" textLength="56" lengthAdjust="spacingAndGlyphs">23 Aug 20:00</text>
<rect x="837" y="835" width="1" height="3" fill="#000"/>
<text x="836" y="847" font-size="10" fill="#000" textLength="56" lengthAdjust="spacingAndGlyphs">24 Aug 12:00</text>
<rect x="901" y="835" width="1" height="3" fill="#000"/>
<text x="900" y="847" font-size="10" fill="#000" textLength="56" lengthAdjust="spacingAndGlyphs">25 Aug 04:00</text>
<rect x="965" y="835" width="1" height="3" fill="#000"/>
<text x="964" y="847" font-size="10" fill="#000" textLength="56" lengthAdjust="spacingAndGlyphs">27 Aug 23:00</text>
<rect x="1029" y="835" width="1" height="3" fill="#000"/>
<text x="1028" y="847" font-size="10" fill="#000" textLength="56" lengthAdjust="spacingAndGlyphs">28 Aug 12:00</text>
<rect x="1093" y="835" width="1" height="3" fill="#000"/>
<text x="1092" y="847" font-size="10" fill="#000" textLength="56" lengthAdjust="spacingAndGlyphs">29 Aug 04:00</text>
<rect x="1157" y="835" width="1" height="3" fill="#000"/>
<text x="1156" y="847" font-size="10" fill="#000" textLength="56" lengthAdjust="spacingAndGlyphs">29 Aug 20:00</text>
<rect x="1221" y="835" width="1" height="3" fill="#000"/>
<text x="1220" y="847" font-size="10" fill="#000" textLength="56" lengthAdjust="spacingAndGlyphs">30 Aug 12:00</text>
<rect x="1285" y="835" width="1" height="3" fill="#000"/>
<text x="1284" y="847" font-size="10" fill="#000" textLength="56" lengthAdjust="spacingAndGlyphs">31 Aug 04:00</text>
<rect x="1349" y="835" width="1" height="3" fill="#000"/>
<text x="1348" y="847" font-size="10" fill="#000" textLength="56" lengthAdjust="spacingAndGlyphs">31 Aug 20:00</text>
<rect x="5" y="4" width="1" height="21" fill="#a0a0a0"/>
<g shape-rendering="geometricPrecision"><path d="M15.5,7.5 h8 l3.5,3.5 v10.5 h-11.5 z" fill="#fbfbfb" stroke="#707070"/><path d="M17.5,10.5 h3 M17.5,14.5 h6 M17.5,17.5 h4" stroke="#9a9a9a" stroke-width="1"/><path d="M24,13 h3.5 v4 h4 v3.5 h-4 v4.3 h-3.5 v-4.3 h-4 v-3.5 h4 z" fill="#20d020" stroke="#0a900a" stroke-width="0.9"/></g>
<text x="34" y="18" font-size="12" fill="#000">新订单</text>
<g shape-rendering="geometricPrecision"><path d="M82.2,16.6 L87.5,8.5 L97.7,16.9 L89.7,22.6 Z" fill="#b07818"/><path d="M83.5,16 L88,9.8 L96,16.2 L90,21 Z" fill="#e8b820"/><path d="M84,16 L88,10.5 L94,15 L89,19.5 Z" fill="#f6d84a"/><path d="M90,21.2 L96.5,16.8" stroke="#e8e0b0" stroke-width="0.8"/></g>
<g shape-rendering="geometricPrecision"><rect x="112.5" y="7.5" width="10.5" height="9" fill="#1a90ee" stroke="#1070d0" stroke-width="0.8"/><path d="M113.5,8 l2,2 v7" stroke="#bfe4ff" stroke-width="0.8" fill="none"/><rect x="117" y="12" width="5" height="1.2" fill="#e0f2ff"/><path d="M111.5,22 q-1.5,-3.5 2,-4 q1,-2.5 4,-2 q2,-2 4.5,0 q3.5,0 3.5,3.5 q1,1.5 -0.5,2.5 z" fill="#e4e8f0" stroke="#46588c" stroke-width="1"/></g>
<g shape-rendering="geometricPrecision"><circle cx="145.5" cy="15" r="7.5" fill="none" stroke="#7aa0d8" stroke-width="1"/><circle cx="145.5" cy="15" r="4.5" fill="none" stroke="#4a78c8" stroke-width="1"/><circle cx="145.5" cy="15" r="1.6" fill="#2050b0"/><path d="M146,15 v7 q5,0 7,-5" fill="none" stroke="#22a022" stroke-width="1.4"/></g>
<g shape-rendering="geometricPrecision"><ellipse cx="172" cy="12" rx="7.5" ry="3.5" fill="#4a9ad8" stroke="#2a6aa8" stroke-width="0.8"/><ellipse cx="172" cy="10" rx="4" ry="3" fill="#6ab6ea"/><path d="M166,15 h11 l-4,7 h-3 z" fill="#e8c040"/><circle cx="177" cy="19.5" r="4.2" fill="#e02020" stroke="#b01010" stroke-width="0.6"/><rect x="175.5" y="18" width="3" height="3" fill="#fff"/></g>
<text x="186" y="18" font-size="12" fill="#000">自动交易</text>
<rect x="241" y="4" width="1" height="21" fill="#a0a0a0"/>
<rect x="245" y="5" width="3" height="1" fill="#9a9a9a"/>
<rect x="245" y="7" width="3" height="1" fill="#9a9a9a"/>
<rect x="245" y="9" width="3" height="1" fill="#9a9a9a"/>
<rect x="245" y="11" width="3" height="1" fill="#9a9a9a"/>
<rect x="245" y="13" width="3" height="1" fill="#9a9a9a"/>
<rect x="245" y="15" width="3" height="1" fill="#9a9a9a"/>
<rect x="245" y="17" width="3" height="1" fill="#9a9a9a"/>
<rect x="245" y="19" width="3" height="1" fill="#9a9a9a"/>
<rect x="245" y="21" width="3" height="1" fill="#9a9a9a"/>
<rect x="245" y="23" width="3" height="1" fill="#9a9a9a"/>
<g shape-rendering="geometricPrecision" stroke="#555" stroke-width="1.2" fill="#555"><line x1="259.5" y1="10" x2="259.5" y2="22"/><line x1="257" y1="20.5" x2="270" y2="20.5"/><polygon points="257.5,11 261.5,11 259.5,8" stroke="none"/><polygon points="269,18.5 269,22.5 272,20.5" stroke="none"/></g>
<g shape-rendering="geometricPrecision"><path d="M265.5,19 v-9 M263,17.5 h2.5 M265.5,11 h3" stroke="#139a13" stroke-width="1.3" fill="none"/></g>
<rect x="279" y="3" width="26" height="23" fill="#ffffff"/>
<rect x="280" y="4" width="24" height="21" fill="#f7f7f7"/>
<rect x="279" y="3" width="25" height="1" fill="#a0a0a0"/>
<rect x="279" y="3" width="1" height="22" fill="#a0a0a0"/>
<g shape-rendering="geometricPrecision" stroke="#555" stroke-width="1.2" fill="#555"><line x1="287.5" y1="10" x2="287.5" y2="22"/><line x1="285" y1="20.5" x2="298" y2="20.5"/><polygon points="285.5,11 289.5,11 287.5,8" stroke="none"/><polygon points="297,18.5 297,22.5 300,20.5" stroke="none"/></g>
<g shape-rendering="geometricPrecision"><path d="M293.5,7 v12" stroke="#0a8a0a" stroke-width="1.3"/><rect x="291.5" y="9.5" width="4.5" height="7" fill="#40e040" stroke="#0a8a0a" stroke-width="1.2"/></g>
<g shape-rendering="geometricPrecision" stroke="#555" stroke-width="1.2" fill="#555"><line x1="315.5" y1="10" x2="315.5" y2="22"/><line x1="313" y1="20.5" x2="326" y2="20.5"/><polygon points="313.5,11 317.5,11 315.5,8" stroke="none"/><polygon points="325,18.5 325,22.5 328,20.5" stroke="none"/></g>
<g shape-rendering="geometricPrecision"><path d="M315.5,18 q4,-7 6.5,-6 q2,0 5,4" stroke="#2a9a2a" stroke-width="1.1" fill="none"/></g>
<rect x="336" y="4" width="1" height="21" fill="#a0a0a0"/>
<g shape-rendering="geometricPrecision"><line x1="354.5" y1="17.5" x2="360.0" y2="22.5" stroke="#b08a10" stroke-width="2.6"/><line x1="354.5" y1="17.5" x2="360.0" y2="22.5" stroke="#f0d860" stroke-width="1.4"/><circle cx="350.5" cy="13" r="5.5" fill="#d8ecfa" stroke="#3a78c0" stroke-width="1.1"/><rect x="347.0" y="12" width="7" height="2" fill="#3a78a8"/><rect x="349.5" y="9.5" width="2" height="7" fill="#3a78a8"/></g>
<g shape-rendering="geometricPrecision"><line x1="382.5" y1="17.5" x2="388.0" y2="22.5" stroke="#b08a10" stroke-width="2.6"/><line x1="382.5" y1="17.5" x2="388.0" y2="22.5" stroke="#f0d860" stroke-width="1.4"/><circle cx="378.5" cy="13" r="5.5" fill="#d8ecfa" stroke="#3a78c0" stroke-width="1.1"/><rect x="375.0" y="12" width="7" height="2" fill="#3a78a8"/></g>
<g shape-rendering="geometricPrecision"><rect x="401" y="7" width="8" height="8" fill="#2a9a2a"/><rect x="409" y="7" width="8" height="8" fill="#2a5ad0"/><rect x="401" y="15" width="8" height="8" fill="#2a5ad0"/><rect x="409" y="15" width="8" height="8" fill="#2a9a2a"/><rect x="402.5" y="10" width="5" height="3" fill="#e8f0e8"/><rect x="410.5" y="10" width="5" height="3" fill="#e8eef8"/><rect x="402.5" y="18" width="5" height="3" fill="#e8eef8"/><rect x="410.5" y="18" width="5" height="3" fill="#e8f0e8"/></g>
<rect x="426" y="4" width="1" height="21" fill="#a0a0a0"/>
<rect x="431" y="3" width="26" height="23" fill="#ffffff"/>
<rect x="432" y="4" width="24" height="21" fill="#f7f7f7"/>
<rect x="431" y="3" width="25" height="1" fill="#a0a0a0"/>
<rect x="431" y="3" width="1" height="22" fill="#a0a0a0"/>
<g shape-rendering="geometricPrecision" stroke="#555" stroke-width="1.2" fill="#555"><line x1="439.5" y1="10" x2="439.5" y2="22"/><line x1="437" y1="20.5" x2="450" y2="20.5"/><polygon points="437.5,11 441.5,11 439.5,8" stroke="none"/><polygon points="449,18.5 449,22.5 452,20.5" stroke="none"/></g>
<g shape-rendering="geometricPrecision"><polygon points="444,11 444,17 448,14" fill="#30c030" stroke="#1a8a1a" stroke-width="0.8"/></g>
<rect x="459" y="3" width="26" height="23" fill="#ffffff"/>
<rect x="460" y="4" width="24" height="21" fill="#f7f7f7"/>
<rect x="459" y="3" width="25" height="1" fill="#a0a0a0"/>
<rect x="459" y="3" width="1" height="22" fill="#a0a0a0"/>
<g shape-rendering="geometricPrecision" stroke="#555" stroke-width="1.2" fill="#555"><line x1="467.5" y1="10" x2="467.5" y2="22"/><line x1="465" y1="20.5" x2="478" y2="20.5"/><polygon points="465.5,11 469.5,11 467.5,8" stroke="none"/><polygon points="477,18.5 477,22.5 480,20.5" stroke="none"/></g>
<g shape-rendering="geometricPrecision"><path d="M473.5,9 v11" stroke="#1a6ab0" stroke-width="1.3"/><path d="M479,14.5 h-4 M477,12.5 l-2,2 l2,2" stroke="#e04010" stroke-width="1.3" fill="none"/></g>
<rect x="488" y="4" width="1" height="21" fill="#a0a0a0"/>
<g shape-rendering="geometricPrecision"><path d="M498.5,7.5 h8 l3,3 v12 h-11 z" fill="#fafafa" stroke="#777"/><path d="M502,10 q-1.5,3 0,6" stroke="#666" fill="none"/><path d="M503,17 h3 v-3 h3 v3 h3 v3 h-3 v3.5 h-3 v-3.5 h-3 z" fill="#19c419" stroke="#0a8a0a" stroke-width="0.8"/></g>
<polygon points="520,14 526,14 523,17.5" fill="#000" shape-rendering="geometricPrecision"/>
<g shape-rendering="geometricPrecision"><circle cx="544" cy="14.5" r="7.8" fill="#1a66c8"/><circle cx="544" cy="14.5" r="5.8" fill="#f4f8fc" stroke="#8ab8e8" stroke-width="0.8"/><path d="M543.5,10.5 v4.5 h3" stroke="#333" stroke-width="1.1" fill="none"/></g>
<polygon points="559,14 565,14 562,17.5" fill="#000" shape-rendering="geometricPrecision"/>
<g shape-rendering="geometricPrecision"><rect x="575.5" y="8.5" width="15" height="13" fill="#f4f8fc" stroke="#2a66c8"/><rect x="576" y="9" width="14" height="2" fill="#2a66c8"/><path d="M577,14.5 l3,-1 l3,0.5 l3,-1.5 l3,0" stroke="#a02010" fill="none" stroke-width="0.9"/><path d="M577,19 l3,-1 l3,0.8 l3,-2 l2.5,2" stroke="#20a020" fill="none" stroke-width="0.9"/><rect x="576" y="16" width="14" height="0.8" fill="#2a66c8"/></g>
<polygon points="598,14 604,14 601,17.5" fill="#000" shape-rendering="geometricPrecision"/>
<rect x="609" y="2" width="1" height="25" fill="#a0a0a0"/>
<rect x="610" y="2" width="1" height="25" fill="#ffffff"/>
<rect x="613" y="5" width="3" height="1" fill="#9a9a9a"/>
<rect x="613" y="7" width="3" height="1" fill="#9a9a9a"/>
<rect x="613" y="9" width="3" height="1" fill="#9a9a9a"/>
<rect x="613" y="11" width="3" height="1" fill="#9a9a9a"/>
<rect x="613" y="13" width="3" height="1" fill="#9a9a9a"/>
<rect x="613" y="15" width="3" height="1" fill="#9a9a9a"/>
<rect x="613" y="17" width="3" height="1" fill="#9a9a9a"/>
<rect x="613" y="19" width="3" height="1" fill="#9a9a9a"/>
<rect x="613" y="21" width="3" height="1" fill="#9a9a9a"/>
<rect x="613" y="23" width="3" height="1" fill="#9a9a9a"/>
<rect x="619" y="3" width="26" height="23" fill="#ffffff"/>
<rect x="620" y="4" width="24" height="21" fill="#f7f7f7"/>
<rect x="619" y="3" width="25" height="1" fill="#a0a0a0"/>
<rect x="619" y="3" width="1" height="22" fill="#a0a0a0"/>
<g shape-rendering="geometricPrecision"><path d="M627,8 L627,20 L629.8,17.5 L632.5,23 L634.5,22 L631.8,16.5 L635.5,16 Z" fill="#505050"/></g>
<rect x="659" y="8" width="1" height="7" fill="#505050"/>
<rect x="659" y="16" width="1" height="7" fill="#505050"/>
<rect x="652" y="15" width="7" height="1" fill="#505050"/>
<rect x="660" y="15" width="7" height="1" fill="#505050"/>
<rect x="676" y="4" width="1" height="21" fill="#a0a0a0"/>
<rect x="693" y="9" width="1" height="13" fill="#505050"/>
<rect x="716" y="15" width="12" height="1" fill="#505050"/>
<g shape-rendering="geometricPrecision"><line x1="744" y1="22" x2="756" y2="10" stroke="#505050" stroke-width="1.1"/></g>
<g shape-rendering="geometricPrecision"><path d="M770,22 L781,11 M773,23 L784,12 M771,17 l2,2 M774,14 l2,2 M777,11 l2,2 M780,8 l2,2" stroke="#555" stroke-width="1" fill="none"/></g>
<text x="781" y="24" font-size="7" fill="#444" font-weight="bold">E</text>
<line x1="799" y1="8.5" x2="812" y2="8.5" stroke="#666" stroke-width="1" stroke-dasharray="1,1"/>
<line x1="799" y1="11.5" x2="812" y2="11.5" stroke="#666" stroke-width="1" stroke-dasharray="1,1"/>
<line x1="799" y1="15.5" x2="812" y2="15.5" stroke="#666" stroke-width="1" stroke-dasharray="1,1"/>
<line x1="799" y1="19.5" x2="812" y2="19.5" stroke="#666" stroke-width="1" stroke-dasharray="1,1"/>
<text x="808" y="24" font-size="7" fill="#444" font-weight="bold">F</text>
<text x="829" y="20" font-size="11" fill="#555" font-weight="bold">A</text>
<rect x="855.5" y="9.5" width="12" height="12" fill="none" stroke="#666" stroke-width="1" stroke-dasharray="1,1"/>
<text x="858" y="20" font-size="10" fill="#555" font-weight="bold">T</text>
<g shape-rendering="geometricPrecision"><polygon points="886,9 889,12 886,14 883,12" fill="#555"/><polygon points="894,17 897,19 894,22 891,19" fill="#555"/><path d="M885,15 l2,3 l5,-5" stroke="#555" stroke-width="1.2" fill="none"/></g>
<polygon points="904,14 910,14 907,17.5" fill="#000" shape-rendering="geometricPrecision"/>
<rect x="915" y="2" width="1" height="25" fill="#a0a0a0"/>
<rect x="916" y="2" width="1" height="25" fill="#ffffff"/>
<rect x="919" y="5" width="3" height="1" fill="#9a9a9a"/>
<rect x="919" y="7" width="3" height="1" fill="#9a9a9a"/>
<rect x="919" y="9" width="3" height="1" fill="#9a9a9a"/>
<rect x="919" y="11" width="3" height="1" fill="#9a9a9a"/>
<rect x="919" y="13" width="3" height="1" fill="#9a9a9a"/>
<rect x="919" y="15" width="3" height="1" fill="#9a9a9a"/>
<rect x="919" y="17" width="3" height="1" fill="#9a9a9a"/>
<rect x="919" y="19" width="3" height="1" fill="#9a9a9a"/>
<rect x="919" y="21" width="3" height="1" fill="#9a9a9a"/>
<rect x="919" y="23" width="3" height="1" fill="#9a9a9a"/>
<rect x="1065" y="3" width="26" height="23" fill="#ffffff"/>
<rect x="1066" y="4" width="24" height="21" fill="#f7f7f7"/>
<rect x="1065" y="3" width="25" height="1" fill="#a0a0a0"/>
<rect x="1065" y="3" width="1" height="22" fill="#a0a0a0"/>
<text x="930" y="19" font-size="10" fill="#333" textLength="13" lengthAdjust="spacingAndGlyphs">M1</text>
<text x="958" y="19" font-size="10" fill="#333" textLength="13" lengthAdjust="spacingAndGlyphs">M5</text>
<text x="984" y="19" font-size="10" fill="#333" textLength="18" lengthAdjust="spacingAndGlyphs">M15</text>
<text x="1013" y="19" font-size="10" fill="#333" textLength="17" lengthAdjust="spacingAndGlyphs">M30</text>
<text x="1043" y="19" font-size="10" fill="#333" textLength="12" lengthAdjust="spacingAndGlyphs">H1</text>
<text x="1070" y="19" font-size="10" fill="#333" textLength="13" lengthAdjust="spacingAndGlyphs">H4</text>
<text x="1100" y="19" font-size="10" fill="#333" textLength="11" lengthAdjust="spacingAndGlyphs">D1</text>
<text x="1127" y="19" font-size="10" fill="#333" textLength="14" lengthAdjust="spacingAndGlyphs">W1</text>
<text x="1154" y="19" font-size="10" fill="#333" textLength="14" lengthAdjust="spacingAndGlyphs">MN</text>
<rect x="1176" y="4" width="1" height="21" fill="#a0a0a0"/>
<g shape-rendering="geometricPrecision"><circle cx="1646.5" cy="12.3" r="4" fill="#f4f6ff" stroke="#2a66d0" stroke-width="1.1"/><line x1="1643.5" y1="15.5" x2="1639.5" y2="19.8" stroke="#1a50c0" stroke-width="2"/></g>
<g shape-rendering="geometricPrecision"><ellipse cx="1668" cy="17" rx="6" ry="4.5" fill="#e8e8f0" stroke="#a8a8a8" stroke-width="0.8"/><path d="M1665,20.5 l-1,3 l3,-2.5" fill="#c8c8c8"/><circle cx="1677.4" cy="12.3" r="8.2" fill="#e03a20"/></g>
<text x="1674" y="17" font-size="11" fill="#fff" font-family="Liberation Serif" font-weight="bold">1</text>
</svg></body></html>
